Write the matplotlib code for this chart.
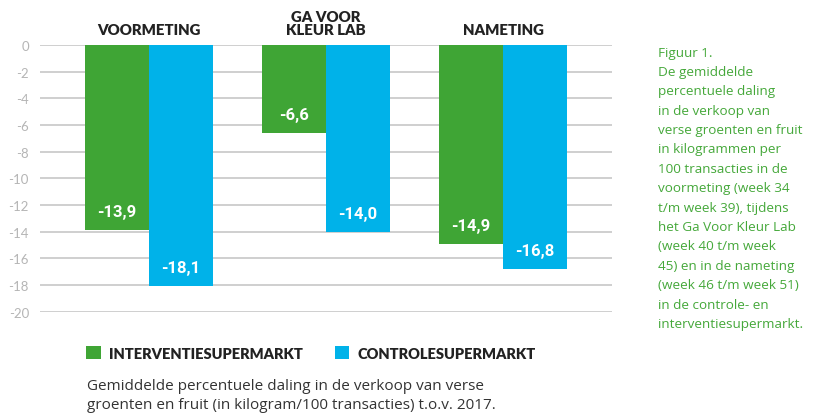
import matplotlib
matplotlib.use("Agg")
import matplotlib.pyplot as plt
import numpy as np
from matplotlib.patches import Patch

# ---- data ----
groups = ["VOORMETING", "GA VOOR\nKLEUR LAB", "NAMETING"]
interventie = [-13.9, -6.6, -14.9]
controle = [-18.1, -14.0, -16.8]
series_names = ["INTERVENTIESUPERMARKT", "CONTROLESUPERMARKT"]
yticks = [0, -2, -4, -6, -8, -10, -12, -14, -16, -18, -20]
side_lines = [
    "Figuur 1.",
    "De gemiddelde",
    "percentuele daling",
    "in de verkoop van",
    "verse groenten en fruit",
    "in kilogrammen per",
    "100 transacties in de",
    "voormeting (week 34",
    "t/m week 39), tijdens",
    "het Ga Voor Kleur Lab",
    "(week 40 t/m week",
    "45) en in de nameting",
    "(week 46 t/m week 51)",
    "in de controle- en",
    "interventiesupermarkt.",
]
caption_lines = [
    "Gemiddelde percentuele daling in de verkoop van verse",
    "groenten en fruit (in kilogram/100 transacties) t.o.v. 2017.",
]

GREEN = "#3fa535"
BLUE = "#00b2e9"
TXT_GREEN = "#45a83a"
W, H = 830, 414

fig = plt.figure(figsize=(W / 100, H / 100), dpi=100)

def fx(px):
    return px / W

def fy(py):
    return 1 - py / H

ax_l, ax_r, ax_t, ax_b = 40, 612, 46, 312.7
ax = fig.add_axes([fx(ax_l), fy(ax_b), fx(ax_r) - fx(ax_l), fy(ax_t) - fy(ax_b)])

x = np.arange(len(groups))
bw = 0.362
ax.bar(x - bw / 2, interventie, bw, color=GREEN, zorder=3, label=series_names[0])
ax.bar(x + bw / 2, controle, bw, color=BLUE, zorder=3, label=series_names[1])

ax.set_ylim(-20, 0)
ax.set_xlim(-0.616, 2.616)
ax.set_yticks(yticks)
ax.set_yticklabels([str(t) for t in yticks], color="#b5b5b5", fontsize=9.5,
                   family="Lato")
ax.tick_params(axis="y", length=0, pad=8)
ax.tick_params(axis="x", length=0, labelbottom=False)
ax.yaxis.grid(True, color="#cfcfcf", linewidth=1.4, zorder=0)
for s in ax.spines.values():
    s.set_visible(False)

def fmt(v):
    return ("%.1f" % v).replace(".", ",")

for xs, vals in ((x - bw / 2, interventie), (x + bw / 2, controle)):
    for xi, v in zip(xs, vals):
        ax.text(xi, v + 1.4, fmt(v), ha="center", va="center", color="white",
                fontsize=12, fontweight="bold", family="Roboto", zorder=4)

# group headers
for xi, g in zip(x, groups):
    ax.text(xi, 0.7, g, ha="center", va="bottom",
            fontsize=10.8, fontweight="heavy", family="Lato", color="#222222",
            linespacing=1.0)

# legend
handles = [Patch(facecolor=GREEN), Patch(facecolor=BLUE)]
leg = fig.legend(handles, series_names, loc="center left",
                 bbox_to_anchor=(fx(86), fy(354)), ncol=2, frameon=False,
                 handlelength=1.0, handleheight=1.0, handletextpad=0.55,
                 columnspacing=2.2, borderaxespad=0, borderpad=0,
                 prop={"family": "Lato", "weight": "heavy", "size": 10.5})
for t in leg.get_texts():
    t.set_color("#222222")

# caption
for i, line in enumerate(caption_lines):
    fig.text(fx(87), fy(387 + i * 18.5), line, ha="left", va="center",
             fontsize=11, family="Open Sans", color="#333333")

# side text
for i, line in enumerate(side_lines):
    fig.text(fx(658), fy(53 + i * 19.4), line, ha="left", va="center",
             fontsize=9.7, family="Open Sans", color=TXT_GREEN)

fig.savefig("out.png", dpi=100)
